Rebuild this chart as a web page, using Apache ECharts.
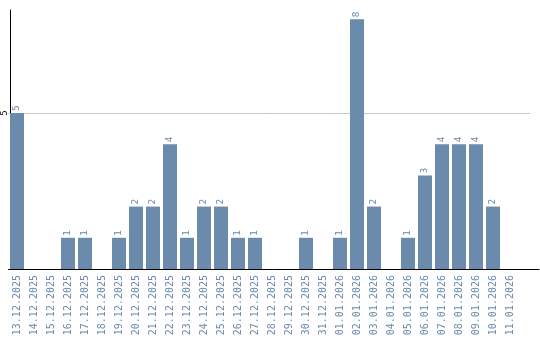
<!DOCTYPE html>
<html><head><meta charset="utf-8">
<script src="https://cdn.jsdelivr.net/npm/echarts@6/dist/echarts.min.js"></script>
<style>html,body{margin:0;padding:0;background:#fff}#c{width:540px;height:340px}</style>
</head><body><div id="c"></div>
<script>
const categories = ["13.12.2025","14.12.2025","15.12.2025","16.12.2025","17.12.2025","18.12.2025","19.12.2025","20.12.2025","21.12.2025","22.12.2025","23.12.2025","24.12.2025","25.12.2025","26.12.2025","27.12.2025","28.12.2025","29.12.2025","30.12.2025","31.12.2025","01.01.2026","02.01.2026","03.01.2026","04.01.2026","05.01.2026","06.01.2026","07.01.2026","08.01.2026","09.01.2026","10.01.2026","11.01.2026"];
const values = [5,0,0,1,1,0,1,2,2,4,1,2,2,1,1,0,0,1,0,1,8,2,0,1,3,4,4,4,2,0];
const yTicks = [5];
const yMax = 8.3;

const gTop = 10, gBottom = 71, chartH = 340;
const plotH = chartH - gTop - gBottom;
const gridTop2 = (chartH - gBottom) - plotH * yTicks[0] / yMax;

const chart = echarts.init(document.getElementById('c'));
chart.setOption({
  animation: false,
  grid: [
    {left: 8.5, top: gTop, width: 510, bottom: gBottom},
    {left: 8.5, top: gridTop2, right: 10, bottom: gBottom},
    {left: 8.5, top: gTop, right: 1, bottom: gBottom}
  ],
  xAxis: [{
    type: 'category', data: categories, gridIndex: 0,
    axisLine: {show: false},
    axisTick: {show: false},
    axisLabel: {rotate: 90, interval: 0, color: '#6a8aab', fontFamily: 'DejaVu Sans Mono', fontSize: 10, margin: 6}
  }, {
    type: 'value', gridIndex: 1, show: false
  }, {
    type: 'value', gridIndex: 2, min: 0, max: 1,
    axisLine: {show: true, onZero: false, lineStyle: {color: '#000', width: 1}},
    axisTick: {show: false}, axisLabel: {show: false}, splitLine: {show: false}
  }],
  yAxis: [{
    type: 'value', gridIndex: 0, min: 0, max: yMax, interval: 5, offset: -1.5, z: 3,
    axisLine: {show: true, lineStyle: {color: '#000', width: 1}},
    axisTick: {show: false},
    splitLine: {show: false},
    axisLabel: {rotate: 90, color: '#000', fontFamily: 'DejaVu Sans', fontSize: 8, margin: 1,
      formatter: v => yTicks.includes(v) ? String(v) : ''}
  }, {
    type: 'value', gridIndex: 1, min: 0, max: yTicks[0], interval: yTicks[0],
    axisLine: {show: false}, axisTick: {show: false}, axisLabel: {show: false},
    splitLine: {show: true, lineStyle: {color: '#c8c8c8', width: 1}}
  }, {
    type: 'value', gridIndex: 2, show: false
  }],
  series: [{
    type: 'bar', data: values, barWidth: 14, xAxisIndex: 0, yAxisIndex: 0,
    itemStyle: {color: '#6a8bab'},
    label: {show: true, position: 'top', rotate: 90, align: 'left', verticalAlign: 'middle', distance: 2,
      color: '#6a8aab', fontFamily: 'DejaVu Sans', fontSize: 9,
      formatter: p => p.value > 0 ? String(p.value) : ''},
    z: 3
  }]
});
</script></body></html>
